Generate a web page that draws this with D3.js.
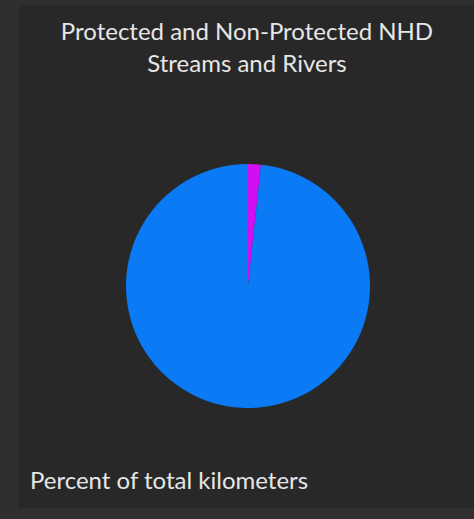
<!DOCTYPE html>
<html>
<head>
<meta charset="utf-8">
<script src="https://cdn.jsdelivr.net/npm/d3@7"></script>
<style>
html,body{margin:0;padding:0;background:#2f2f2f;}
svg{display:block;}
</style>
</head>
<body>
<svg id="chart" width="474" height="519"></svg>
<script>
const categories = ["Protected", "Non-Protected"];
const values = [1.7, 98.3];
const colors = ["#d20ef2", "#0a7af5"];
const titleLines = ["Protected and Non-Protected NHD", "Streams and Rivers"];
const footer = "Percent of total kilometers";

const svg = d3.select("#chart");
svg.append("rect").attr("x",0).attr("y",0).attr("width",474).attr("height",519).attr("fill","#2f2f2f");
svg.append("rect").attr("x",18).attr("y",5).attr("width",456).attr("height",503).attr("fill","#282828");

svg.selectAll("text.title").data(titleLines).join("text")
  .attr("class","title")
  .attr("x",247).attr("y",(d,i)=>40 + i*32)
  .attr("text-anchor","middle")
  .attr("font-family","Lato, 'Noto Sans', sans-serif")
  .attr("font-size",24)
  .attr("fill","#e6e6e6")
  .text(d=>d);

const cx = 248, cy = 286, r = 122;
const pie = d3.pie().sort(null).value(d=>d.v);
const arcs = pie(categories.map((c,i)=>({c, v: values[i]})));
const arc = d3.arc().innerRadius(0).outerRadius(r);
svg.append("g").attr("transform",`translate(${cx},${cy})`)
  .selectAll("path").data(arcs).join("path")
  .attr("d",arc)
  .attr("fill",(d,i)=>colors[i]);

svg.append("text")
  .attr("x",30).attr("y",489)
  .attr("font-family","Lato, 'Noto Sans', sans-serif")
  .attr("font-size",24)
  .attr("fill","#e6e6e6")
  .text(footer);
</script>
</body>
</html>
